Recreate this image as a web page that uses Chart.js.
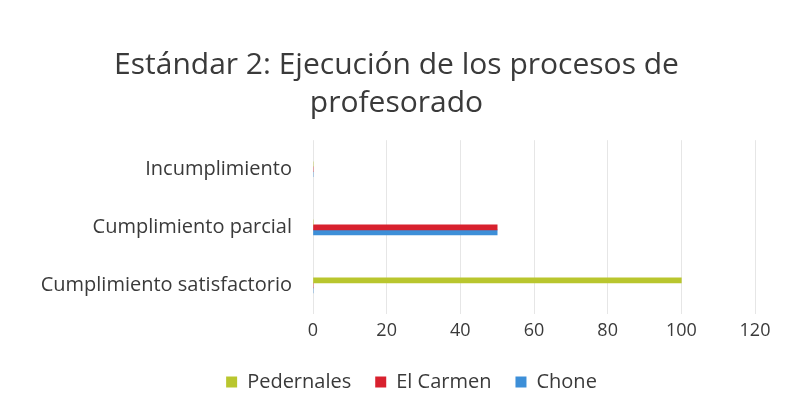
<!DOCTYPE html>
<html>
<head>
<meta charset="utf-8">
<script src="https://cdn.jsdelivr.net/npm/chart.js@4.4.1/dist/chart.umd.min.js"></script>
<style>
  html, body { margin: 0; padding: 0; background: #fff; }
  #wrap { width: 789px; height: 412px; }
</style>
</head>
<body>
<div id="wrap"><canvas id="chart" width="789" height="412"></canvas></div>
<script>
// data
const categories = ['Incumplimiento', 'Cumplimiento parcial', 'Cumplimiento satisfactorio']
const pedernales = [0, 0, 100]
const elCarmen = [0, 50, 0]
const chone = [0, 50, 0]
const xTicks = [0, 20, 40, 60, 80, 100, 120]

const textColor = '#3a3a3a'
const fontFamily = '"Open Sans", Lato, sans-serif'

// the legend in the reference sits a bit right of centre
const legendShift = {
  id: 'legendShift',
  afterLayout(chart) {
    if (!chart.legend) return
    chart.legend.left += 15
    chart.legend.right += 15
  }
}

const ctx = document.getElementById('chart').getContext('2d')
new Chart(ctx, {
  type: 'bar',
  data: {
    labels: categories,
    datasets: [{
      label: 'Pedernales',
      data: pedernales,
      backgroundColor: '#b9c62e'
    }, {
      label: 'El Carmen',
      data: elCarmen,
      backgroundColor: '#d8212e'
    }, {
      label: 'Chone',
      data: chone,
      backgroundColor: '#3d8fd8'
    }]
  },
  options: {
    indexAxis: 'y',
    responsive: false,
    animation: false,
    datasets: {
      bar: { barThickness: 5 }
    },
    layout: { padding: { left: 26, right: 22, top: 0, bottom: 10 } },
    plugins: {
      title: {
        display: true,
        text: ['Estándar 2: Ejecución de los procesos de', 'profesorado'],
        color: textColor,
        font: { family: fontFamily, size: 30, weight: 'normal', lineHeight: 1.27 },
        padding: { top: 46, bottom: 18 }
      },
      legend: {
        position: 'bottom',
        labels: {
          color: textColor,
          font: { family: fontFamily, size: 20 },
          boxWidth: 11,
          boxHeight: 11,
          padding: 24
        }
      },
      tooltip: { enabled: false }
    },
    scales: {
      x: {
        min: 0,
        max: 120,
        afterBuildTicks: axis => { axis.ticks = xTicks.map(v => ({ value: v })) },
        grid: { color: '#e6e6e6', drawTicks: false },
        border: { display: false },
        ticks: {
          color: textColor,
          font: { family: fontFamily, size: 18 },
          padding: 6
        }
      },
      y: {
        grid: { display: false },
        border: { display: false },
        afterFit: axis => { axis.width = 287 },
        ticks: {
          color: textColor,
          font: { family: fontFamily, size: 20 },
          padding: 13
        }
      },
      // empty spacer on the right so the plot ends where the reference does
      yRight: {
        type: 'category',
        position: 'right',
        grid: { display: false },
        border: { display: false },
        ticks: { display: false },
        afterFit: axis => { axis.width = 12 }
      }
    }
  },
  plugins: [legendShift]
})
</script>
</body>
</html>
